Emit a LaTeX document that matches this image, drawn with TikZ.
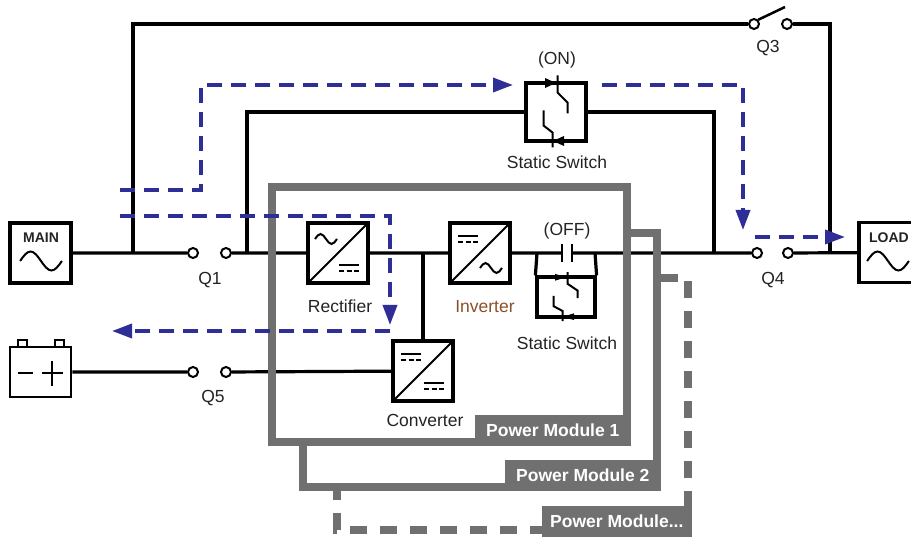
\documentclass[tikz,border=0pt]{standalone}
\usepackage{fontspec}
\setmainfont{Liberation Sans}
\usetikzlibrary{arrows.meta}
\definecolor{flowblue}{RGB}{46,46,150}
\definecolor{pmgray}{RGB}{112,112,112}
\definecolor{txt}{RGB}{35,35,35}
\definecolor{invtxt}{RGB}{140,80,40}

\begin{document}
\begin{tikzpicture}[x=1pt,y=-1pt,
    wire/.style={line width=3.2pt},
    conv/.style={draw, line width=3.5pt, minimum size=60pt, inner sep=0pt,
      path picture={\draw[line width=2pt] (path picture bounding box.south west) -- (path picture bounding box.north east);}},
    term/.style={circle, draw, fill=white, line width=2pt, minimum size=10pt, inner sep=0pt},
    lbl/.style={text=txt, inner sep=0pt, font=\fontsize{17.5pt}{20pt}\selectfont},
    tag/.style={text=txt, inner sep=0pt, font=\bfseries\fontsize{14pt}{16pt}\selectfont},
    module/.style={draw=pmgray, line width=8pt},
    pmtab/.style={fill=pmgray, text=white, inner sep=0pt, anchor=south east, minimum height=31pt,
      font=\bfseries\fontsize{17.5pt}{20pt}\selectfont},
    flow/.style={draw=flowblue, line width=3.5pt, dash pattern=on 15pt off 9pt},
    tip/.style={-{Triangle[length=20pt,width=14pt]}},
    ac/.pic={\draw[line width=2pt] (-11,0) sin (-5.5,-5) cos (0,0) sin (5.5,5) cos (11,0);},
    dc/.pic={\draw[line width=2pt] (-10,-3) -- (10,-3);
      \draw[line width=2pt, dash pattern=on 5pt off 2.5pt] (-10,3) -- (10,3);},
    scr/.pic={\draw[line width=2pt] (1.5,-36.5) -- (1.5,-19.5) -- (11.5,-9.5) -- (11.5,1.5);
      \draw[line width=2pt] (-12.5,-1.5) -- (-12.5,13.5) -- (-3.5,20.5) -- (-3.5,35.5);
      \fill (0,-29) -- (-11,-34) -- (-11,-24) -- cycle;
      \fill (-3,29) -- (8,24) -- (8,34) -- cycle;}
  ]
  \useasboundingbox (0,0) rectangle (911,537);
  \clip (0,0) rectangle (911,537);

  % mains, battery and load
  \node[draw, line width=3.2pt, minimum width=61pt, minimum height=60pt] (main) at (40.5,253) {};
  \node[tag] (mainT) at (41,238) {MAIN};
  \pic[scale=1.9] at (41,261) {ac};
  \node[draw, line width=3.2pt, minimum width=61pt, minimum height=60pt] (load) at (889.5,252.5) {};
  \node[tag] (loadT) at (889,238) {LOAD};
  \pic[scale=1.9] at (888,261) {ac};
  \node[draw, line width=2.8pt, minimum width=61pt, minimum height=50pt] (batt) at (40.5,372) {};
  \draw[line width=2.5pt] (18,340) rectangle (27,347) (55,340) rectangle (64,347);
  \draw[line width=2.5pt] (18,373) -- (33,373) (42,373) -- (63,373) (52,361) -- (52,386);

  % breakers
  \node[term] (q1a) at (193,253) {};
  \node[term] (q1b) at (226,253) {};
  \node[term] (q5a) at (193,372) {};
  \node[term] (q5b) at (226,372) {};
  \node[term] (q4a) at (757,253) {};
  \node[term] (q4b) at (788,253) {};
  \node[term] (q3a) at (754,24) {};
  \node[term] (q3b) at (787,24) {};
  \coordinate (q3blade) at (785,7);
  \draw[line width=2.5pt] (q3a.north east) -- (q3blade);

  % power module parts
  \node[conv] (rect) at (338,253) {};
  \pic at (326,239) {ac};
  \pic at (349,268) {dc};
  \node[conv] (inv) at (480,253) {};
  \pic at (468,239) {dc};
  \pic at (491,268) {ac};
  \node[conv] (conv) at (423,371) {};
  \pic at (411,357) {dc};
  \pic at (434,386) {dc};

  % static switches
  \node[draw, line width=3.2pt, minimum width=60pt, minimum height=58pt, inner sep=0pt] (ssOn) at (556,112) {};
  \pic at (556,112) {scr};
  \node[draw, line width=3.2pt, minimum width=58pt, minimum height=40pt, inner sep=0pt] (ssOff) at (566,297) {};
  \pic[yscale=0.68] at (566,297) {scr};
  \coordinate (ssL) at (537,253);
  \coordinate (ssR) at (595,253);
  \coordinate (cpL) at (562,253);
  \coordinate (cpR) at (572,253);
  \draw[line width=2.5pt] (562,244) -- (562,262) (572,244) -- (572,262);

  % wiring
  \coordinate (jm) at (133,253);
  \coordinate (jb) at (247,253);
  \coordinate (jc) at (423,253);
  \coordinate (jr) at (714,253);
  \coordinate (jl) at (830,253);
  \draw[wire] (main) -- (q1a) (q1b) -- (rect) (rect) -- (inv) (inv) -- (ssL) -- (cpL)
    (cpR) -- (ssR) -- (q4a) (q4b) -- (load);
  \draw[wire] (ssL) -- (ssOff.north west) (ssR) -- (ssOff.north east);
  \draw[wire] (jc) -- (conv);
  \draw[wire] (batt) -- (q5a) (q5b) -- (conv);
  \draw[wire] (jm) |- (q3a);
  \draw[wire] (q3b) -| (jl);
  \draw[wire] (jb) |- (ssOn);
  \draw[wire] (ssOn) -| (jr);

  % power modules
  \draw[module, dash pattern=on 17pt off 13pt] (661,278) -| (688,530) -| (337,491);
  \draw[module] (627,233) -| (657,487) -| (303,442);
  \draw[module] (272,187) rectangle (627,442);
  \node[pmtab, minimum width=156pt] (pm1) at (631,446) {Power Module 1};
  \node[pmtab, minimum width=156pt] (pm2) at (661,491) {Power Module 2};
  \node[pmtab, minimum width=150pt] (pm3) at (692,537) {Power Module...};

  % labels
  \node[lbl] (lq1) at (210,280) {Q1};
  \node[lbl] (lq5) at (213,398) {Q5};
  \node[lbl] (lq3) at (768,48) {Q3};
  \node[lbl] (lq4) at (773,280) {Q4};
  \node[lbl] (lon) at (557,60) {(ON)};
  \node[lbl] (lss1) at (557,162) {Static Switch};
  \node[lbl] (loff) at (567,231) {(OFF)};
  \node[lbl] (lss2) at (567,343) {Static Switch};
  \node[lbl] (lrect) at (340,306) {Rectifier};
  \node[lbl, text=invtxt] (linv) at (485,307) {Inverter};
  \node[lbl] (lconv) at (425,420) {Converter};

  % energy flow
  \coordinate (fa0) at (120,190);
  \coordinate (fa1) at (201,85);
  \coordinate (fa2) at (513,85);
  \coordinate (fb0) at (602,85);
  \coordinate (fb1) at (743,230);
  \coordinate (fc0) at (755,237);
  \coordinate (fc1) at (845,237);
  \coordinate (fd0) at (120,216);
  \coordinate (fd1) at (390,325);
  \coordinate (fe0) at (390,331);
  \coordinate (fe1) at (112,331);
  \draw[flow, tip] (fa0) -| (fa1) -- (fa2);
  \draw[flow, tip] (fb0) -| (fb1);
  \draw[flow, tip] (fc0) -- (fc1);
  \draw[flow, tip] (fd0) -| (fd1);
  \draw[flow, tip] (fe0) -- (fe1);
\end{tikzpicture}
\end{document}
